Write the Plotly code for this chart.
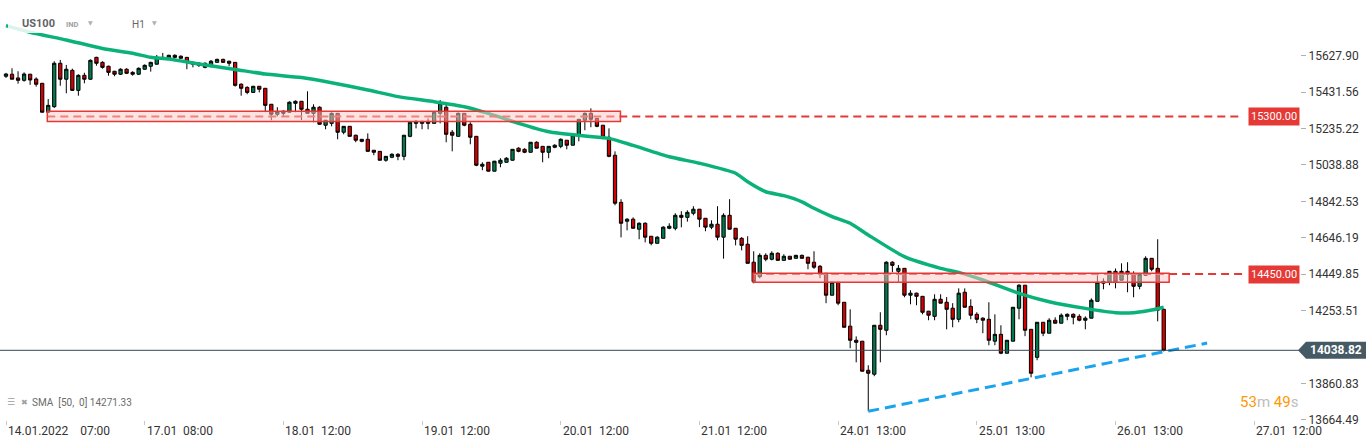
import plotly.graph_objects as go

# ---------------- data ----------------
opens = [15517,15528,15508,15495,15528,15502,15479,15323,15353,15587,15501,15549,15441,15522,15501,15619,15592,15571,15544,15528,
         15555,15538,15528,15555,15571,15582,15612,15609,15630,15625,15619,15582,15587,15587,15571,15592,15608,15598,15592,15474,
         15457,15430,15463,15452,15366,15312,15317,15323,15371,15382,15339,15317,15350,15253,15263,15317,15215,15247,15199,15177,
         15177,15118,15112,15064,15080,15096,15085,15193,15263,15263,15274,15263,15317,15350,15215,15193,15317,15258,15193,15032,
         15053,15005,15048,15053,15064,15129,15123,15107,15161,15139,15107,15134,15139,15172,15145,15193,15280,15317,15290,15253,
         15188,15091,14837,14735,14746,14692,14724,14654,14616,14643,14697,14697,14767,14756,14778,14800,14751,14703,14719,14649,
         14767,14697,14643,14611,14514,14436,14551,14530,14562,14524,14546,14535,14551,14541,14514,14492,14454,14336,14406,14298,
         14169,14093,14088,13931,13910,14174,14147,14514,14465,14481,14336,14347,14330,14250,14222,14314,14298,14266,14206,14352,
         14276,14233,14212,14206,14088,14125,14023,14088,14266,14390,14152,14001,14190,14131,14201,14185,14222,14233,14222,14201,
         14212,14303,14401,14406,14465,14417,14465,14449,14384,14443,14535,14481,14260]
highs = [15535,15560,15544,15538,15530,15511,15481,15394,15598,15605,15578,15558,15528,15536,15608,15622,15598,15574,15546,15560,
         15560,15544,15565,15581,15595,15632,15643,15633,15635,15630,15620,15598,15594,15592,15605,15612,15612,15601,15593,15479,
         15463,15465,15464,15453,15367,15350,15333,15382,15387,15383,15436,15366,15355,15281,15322,15318,15248,15248,15202,15178,
         15209,15119,15114,15087,15102,15102,15200,15274,15281,15276,15290,15328,15389,15362,15227,15322,15318,15269,15195,15053,
         15054,15060,15075,15080,15124,15134,15129,15162,15166,15140,15140,15150,15182,15173,15200,15286,15322,15344,15291,15254,
         15236,15112,14854,14751,14756,14729,14729,14655,14654,14708,14724,14778,14789,14794,14816,14801,14752,14740,14816,14778,
         14854,14698,14649,14654,14573,14562,14562,14573,14568,14557,14548,14554,14555,14543,14573,14499,14455,14407,14407,14299,
         14260,14114,14089,13958,14175,14244,14519,14519,14499,14482,14363,14350,14331,14251,14341,14341,14326,14293,14373,14373,
         14314,14244,14217,14298,14233,14174,14094,14272,14395,14391,14153,14191,14191,14212,14217,14238,14238,14238,14233,14222,
         14319,14443,14427,14466,14480,14508,14514,14465,14454,14546,14536,14638,14261]
lows = [15508,15501,15477,15488,15471,15461,15321,15318,15346,15466,15425,15438,15412,15479,15498,15574,15558,15520,15517,15524,
        15529,15520,15524,15551,15542,15580,15609,15606,15614,15612,15555,15565,15567,15560,15565,15589,15589,15571,15461,15412,
        15420,15428,15430,15323,15280,15301,15301,15321,15323,15281,15316,15269,15257,15231,15247,15177,15204,15192,15161,15161,
        15111,15091,15062,15056,15075,15064,15064,15188,15236,15231,15231,15262,15263,15161,15112,15192,15247,15150,15032,15010,
        15003,15003,15026,15052,15062,15107,15102,15105,15128,15053,15075,15129,15129,15123,15144,15166,15226,15242,15242,15182,
        15080,14821,14648,14686,14696,14638,14621,14605,14615,14642,14692,14686,14702,14733,14767,14703,14681,14692,14632,14533,
        14691,14605,14578,14507,14400,14427,14519,14524,14523,14523,14529,14534,14534,14476,14478,14428,14293,14335,14282,14162,
        14050,13974,13925,13710,13899,13974,14120,14460,14406,14325,14287,14282,14233,14201,14201,14292,14152,14163,14190,14270,
        14206,14185,14131,14066,14066,14018,14022,14087,14206,14115,13893,13985,14115,14130,14184,14184,14201,14179,14195,14152,
        14211,14302,14368,14390,14373,14416,14352,14325,14368,14442,14465,14195,14033]
closes = [15529,15501,15495,15529,15497,15474,15323,15360,15587,15501,15555,15441,15522,15501,15603,15587,15565,15538,15528,15555,
          15533,15528,15560,15576,15592,15619,15619,15630,15619,15614,15592,15587,15576,15565,15598,15608,15592,15587,15468,15452,
          15430,15463,15447,15360,15312,15326,15328,15377,15382,15339,15317,15350,15258,15280,15317,15215,15247,15193,15172,15166,
          15112,15107,15064,15085,15096,15085,15199,15269,15274,15274,15263,15323,15371,15204,15199,15317,15253,15188,15037,15042,
          15005,15059,15064,15075,15123,15112,15107,15161,15129,15107,15139,15145,15177,15145,15199,15285,15317,15285,15247,15188,
          15085,14832,14724,14746,14697,14724,14649,14616,14649,14703,14708,14767,14756,14783,14800,14746,14703,14719,14649,14767,
          14692,14638,14605,14508,14409,14551,14530,14562,14524,14546,14530,14551,14535,14508,14487,14449,14336,14406,14293,14163,
          14093,14082,13926,13915,14174,14152,14514,14497,14481,14336,14347,14330,14244,14228,14314,14293,14260,14206,14347,14271,
          14228,14206,14201,14093,14125,14023,14093,14271,14390,14147,13915,14190,14131,14201,14185,14228,14233,14217,14201,14212,
          14309,14406,14411,14465,14406,14465,14449,14384,14449,14535,14476,14255,14038.82]

sma_idx = [0, 4, 10, 16, 21, 24, 27, 32, 38, 43, 49, 54, 60, 65, 71, 76, 80, 85, 90, 96, 100, 104, 110, 115,
           121, 123, 126, 129, 132, 134, 137, 140, 143, 149, 155, 158, 162, 168, 173, 179, 184, 187, 190, 192]
sma_val = [15790, 15754, 15713, 15667, 15641, 15619, 15610, 15583, 15554, 15529, 15510, 15482, 15443, 15407, 15380,
           15353, 15317, 15263, 15218, 15195, 15182, 15144, 15083, 15048, 14994, 14948, 14894, 14873, 14840, 14805,
           14760, 14724, 14661, 14544, 14481, 14459, 14418, 14346, 14301, 14265, 14242, 14242, 14256, 14271.33]

trend_idx = [143, 199.2]
trend_price = [13710, 14078]

levels = [15300.00, 14450.00]
zone_start = [6.85, 123.9]
zone_end = [101.9, 192.9]
zone_low = [15273, 14406]
zone_high = [15328, 14454]
level_end = 205

last_price = 14038.82
sma_last = 14271.33

x_tick_idx = [0, 23, 46, 69, 92, 115, 138, 161, 184, 207]
x_tick_text = ["14.01.2022\u00a0\u00a0\u00a0\u00a007:00", "17.01\u00a0\u00a008:00", "18.01\u00a0\u00a012:00",
               "19.01\u00a0\u00a012:00", "20.01\u00a0\u00a012:00", "21.01\u00a0\u00a012:00", "24.01\u00a0\u00a013:00",
               "25.01\u00a0\u00a013:00", "26.01\u00a0\u00a013:00", "27.01\u00a0\u00a012:00"]
y_tick_vals = [15627.90, 15431.56, 15235.22, 15038.88, 14842.53, 14646.19, 14449.85, 14253.51, 13860.83, 13664.49]

x_range = [-0.995, 214.6]
y_range = [13662.9, 15928.35]

FONT = "Roboto"
RED = "#e53935"

idx = list(range(len(opens)))

fig = go.Figure()
fig.add_trace(go.Candlestick(
    x=idx, open=opens, high=highs, low=lows, close=closes,
    increasing=dict(fillcolor="#007a4d", line=dict(color="#000000", width=1)),
    decreasing=dict(fillcolor="#d50000", line=dict(color="#000000", width=1)),
    whiskerwidth=0, hoverinfo="skip", showlegend=False))
fig.add_trace(go.Scatter(x=sma_idx, y=sma_val, mode="lines",
                         line=dict(color="#0ab27a", width=3.5, shape="spline", smoothing=0.6),
                         hoverinfo="skip", showlegend=False))
fig.add_trace(go.Scatter(x=trend_idx, y=trend_price, mode="lines",
                         line=dict(color="#1aa3ef", width=3, dash="11px,6px"),
                         hoverinfo="skip", showlegend=False))

shapes = []
shapes.append(dict(type="line", xref="paper", yref="y", x0=0, x1=1, y0=last_price, y1=last_price,
                   line=dict(color="#37474f", width=1), layer="above"))
for lv, zs in zip(levels, zone_start):
    shapes.append(dict(type="line", xref="x", yref="y", x0=zs, x1=level_end, y0=lv, y1=lv,
                       line=dict(color=RED, width=2, dash="8px,5px"), layer="above"))
for zs, ze, zl, zh in zip(zone_start, zone_end, zone_low, zone_high):
    shapes.append(dict(type="rect", xref="x", yref="y", x0=zs, x1=ze, y0=zl, y1=zh,
                       fillcolor="rgba(255,200,200,0.5)", line=dict(color=RED, width=1.5), layer="above"))
# header translucent background
PW = 1300.0
PH = 420.0
shapes.append(dict(type="rect", xref="paper", yref="paper", x0=8 / PW, x1=170 / PW, y0=(PH - 33) / PH, y1=1,
                   fillcolor="rgba(255,255,255,0.85)", line=dict(width=0), layer="above"))
# current price label arrow box
hh = 8.5 * (y_range[1] - y_range[0]) / PH
tip, lft, rgt = 1298 / PW, 1306 / PW, 1366 / PW
shapes.append(dict(type="path", xref="paper", yref="y",
                   path=f"M {tip},{last_price} L {lft},{last_price + hh} L {rgt},{last_price + hh} "
                        f"L {rgt},{last_price - hh} L {lft},{last_price - hh} Z",
                   fillcolor="#455a64", line=dict(width=0), layer="above"))

ann = []
for lv in levels:
    ann.append(dict(xref="paper", yref="y", x=1.0, y=lv, xanchor="right", yanchor="middle",
                    text=f"{lv:.2f}", showarrow=False, bgcolor=RED, borderpad=2,
                    font=dict(family=FONT, size=11, color="white")))
ann.append(dict(xref="paper", yref="y", x=1336 / PW, y=last_price, xanchor="center", yanchor="middle",
                text=f"<b>{last_price:.2f}</b>", showarrow=False, font=dict(family=FONT, size=12, color="white")))
for xi, tt in zip(x_tick_idx, x_tick_text):
    ann.append(dict(xref="x", yref="paper", x=xi, y=0, xanchor="left", yanchor="top", yshift=-2,
                    text=tt, showarrow=False, font=dict(family=FONT, size=12, color="#333333")))
# header
ann.append(dict(xref="paper", yref="paper", x=20 / PW, y=(PH - 23) / PH, xanchor="left", yanchor="middle",
                text="<b>US100</b>", showarrow=False, font=dict(family=FONT, size=11, color="#5f6368")))
ann.append(dict(xref="paper", yref="paper", x=64 / PW, y=(PH - 24) / PH, xanchor="left", yanchor="middle",
                text="<b>IND</b>", showarrow=False, font=dict(family=FONT, size=7.5, color="#a0a0a0")))
ann.append(dict(xref="paper", yref="paper", x=86 / PW, y=(PH - 22) / PH, xanchor="left", yanchor="middle",
                text="▼", showarrow=False, font=dict(family="DejaVu Sans", size=6, color="#b0b0b0")))
ann.append(dict(xref="paper", yref="paper", x=130 / PW, y=(PH - 24) / PH, xanchor="left", yanchor="middle",
                text="H1", showarrow=False, font=dict(family=FONT, size=10, color="#666666")))
ann.append(dict(xref="paper", yref="paper", x=150 / PW, y=(PH - 22) / PH, xanchor="left", yanchor="middle",
                text="▼", showarrow=False, font=dict(family="DejaVu Sans", size=6, color="#b0b0b0")))
# SMA legend
ann.append(dict(xref="paper", yref="paper", x=5 / PW, y=(PH - 402) / PH, xanchor="left", yanchor="middle",
                text="☰", showarrow=False, font=dict(family="DejaVu Sans", size=9, color="#9e9e9e")))
ann.append(dict(xref="paper", yref="paper", x=19 / PW, y=(PH - 402) / PH, xanchor="left", yanchor="middle",
                text="✖", showarrow=False, font=dict(family="DejaVu Sans", size=8, color="#9e9e9e")))
ann.append(dict(xref="paper", yref="paper", x=30 / PW, y=(PH - 402) / PH, xanchor="left", yanchor="middle",
                text=f"SMA\u00a0 [50,\u00a0 0] {sma_last:.2f}", showarrow=False,
                font=dict(family=FONT, size=10, color="#6b6b6b")))
# countdown
ann.append(dict(xref="paper", yref="paper", x=1.0, y=(PH - 402) / PH, xanchor="right", yanchor="middle",
                text='<span style="color:#ff9800">53</span><span style="color:#bdbdbd">m</span> '
                     '<span style="color:#ff9800">49</span><span style="color:#bdbdbd">s</span>',
                showarrow=False, font=dict(family=FONT, size=15)))

fig.update_layout(
    width=1368, height=446,
    margin=dict(l=0, r=68, t=0, b=26),
    paper_bgcolor="white", plot_bgcolor="white",
    showlegend=False, boxgap=0.22,
    shapes=shapes, annotations=ann,
    xaxis=dict(range=x_range, showgrid=False, zeroline=False, showline=False,
               tickvals=x_tick_idx, ticks="outside", ticklen=4, tickcolor="#c8c8c8",
               showticklabels=False, rangeslider=dict(visible=False), fixedrange=True),
    yaxis=dict(range=y_range, side="right", showgrid=False, zeroline=False, showline=False,
               tickvals=y_tick_vals, ticktext=[f"{v:.2f}" for v in y_tick_vals],
               ticks="outside", ticklen=5, tickcolor="#b0b0b0",
               tickfont=dict(family=FONT, size=12, color="#333333"), fixedrange=True),
)

fig.write_html("out.html", config={"displayModeBar": False},
               post_script="document.body.style.margin='0px';document.body.style.overflow='hidden';")
